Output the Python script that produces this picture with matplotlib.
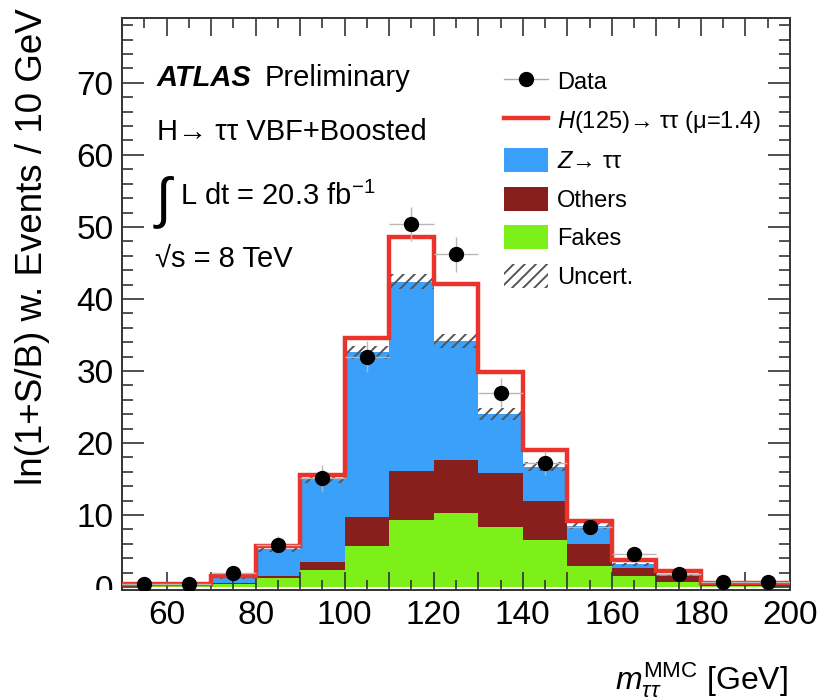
import numpy as np
import matplotlib
matplotlib.use("Agg")
import matplotlib.pyplot as plt
from matplotlib import font_manager
from matplotlib.lines import Line2D
from matplotlib.patches import Patch
from matplotlib.ticker import MultipleLocator, FuncFormatter
from matplotlib.transforms import Bbox, TransformedBbox

# binning (m_tautau MMC, 10 GeV bins)
edges = np.arange(50, 201, 10)

# stacked backgrounds
fakes = [0.10, 0.10, 0.50, 1.20, 2.40, 5.70, 9.30, 10.3, 8.40, 6.60, 2.90, 1.50, 0.70, 0.20, 0.15]
others = [0.05, 0.05, 0.10, 0.40, 1.10, 4.10, 6.80, 7.40, 7.50, 5.30, 3.10, 1.20, 0.80, 0.20, 0.15]
ztautau = [0.10, 0.10, 0.70, 3.70, 11.7, 22.8, 26.3, 16.5, 8.10, 4.80, 2.50, 0.50, 0.20, 0.05, 0.05]
signal = [0.25, 0.25, 0.30, 0.40, 0.30, 2.00, 6.20, 7.90, 5.80, 2.30, 0.70, 0.50, 0.50, 0.15, 0.25]
bkg_unc = [0.10, 0.10, 0.20, 0.40, 0.70, 0.90, 1.00, 1.00, 0.80, 0.60, 0.40, 0.20, 0.15, 0.10, 0.10]

data = [0.5, 0.5, 1.9, 5.9, 15.2, 32.0, 50.4, 46.2, 27.0, 17.2, 8.4, 4.6, 1.8, 0.7, 0.7]
data_err = [0.3, 0.4, 0.7, 1.2, 1.8, 2.1, 2.3, 2.4, 2.0, 1.7, 1.2, 0.9, 0.6, 0.4, 0.4]

c_z = "#3aa0fa"
c_oth = "#87201c"
c_fake = "#7cf018"
c_sig = "#e8342c"

names = {f.name for f in font_manager.fontManager.ttflist}
narrow = "Liberation Sans Narrow" if "Liberation Sans Narrow" in names else "Liberation Sans"
tick_size = 27 if narrow != "Liberation Sans" else 24

plt.rcParams["font.family"] = ["Liberation Sans", "DejaVu Sans"]
plt.rcParams["mathtext.fontset"] = "custom"
plt.rcParams["mathtext.rm"] = "Liberation Sans"
plt.rcParams["mathtext.it"] = "Liberation Sans:italic"
plt.rcParams["mathtext.bf"] = "Liberation Sans:bold"
plt.rcParams["hatch.linewidth"] = 1.4

W, H = 832, 699
fig = plt.figure(figsize=(W / 100, H / 100), dpi=100)
ax = fig.add_axes([122 / W, 1 - 590 / H, (790 - 122) / W, (590 - 18) / H])

f = np.array(fakes)
o = f + np.array(others)
z = o + np.array(ztautau)
tot = z + np.array(signal)
unc = np.array(bkg_unc)

ax.stairs(f, edges, baseline=0, fill=True, color=c_fake, lw=0, zorder=1)
ax.stairs(o, edges, baseline=f, fill=True, color=c_oth, lw=0, zorder=1)
ax.stairs(z, edges, baseline=o, fill=True, color=c_z, lw=0, zorder=1)
ax.stairs(z + unc, edges, baseline=z - unc, fill=True, facecolor="none",
          edgecolor="#555555", hatch="///", lw=0, zorder=2)
ax.stairs(tot, edges, baseline=None, color=c_sig, lw=3.2, zorder=3)

centers = 0.5 * (edges[:-1] + edges[1:])
ax.errorbar(centers, data, yerr=data_err, xerr=5, fmt="o", color="k", ms=10,
            ecolor="#b8b8b8", elinewidth=1.0, capsize=0, zorder=4)

ax.set_xlim(50, 200)
ax.set_ylim(-0.4, 79)

ax.xaxis.set_major_locator(MultipleLocator(10))
ax.xaxis.set_minor_locator(MultipleLocator(5))
ax.xaxis.set_major_formatter(FuncFormatter(lambda v, p: f"{v:.0f}" if int(round(v)) % 20 == 0 else ""))
ax.yaxis.set_major_locator(MultipleLocator(10))
ax.yaxis.set_minor_locator(MultipleLocator(2))
ax.tick_params(which="both", direction="in", top=True, right=True, width=1.2, color="#333333")
ax.tick_params(which="major", length=13)
ax.tick_params(which="minor", length=7)
ax.tick_params(axis="y", which="major", length=16)
ax.tick_params(axis="y", which="minor", length=8)
ax.tick_params(axis="x", pad=7)
ax.tick_params(axis="y", pad=6)
for lab in ax.get_xticklabels() + ax.get_yticklabels():
    lab.set_fontfamily(narrow)
    lab.set_fontsize(tick_size)
for s in ax.spines.values():
    s.set_linewidth(1.4)
    s.set_color("#333333")

# the "0" label is cut by the axis frame in the original
clip = TransformedBbox(Bbox([[0, 1 - 590 / H], [1, 1]]), fig.transFigure)
for t in ax.yaxis.get_major_ticks():
    if abs(t.get_loc()) < 1e-6:
        t.label1.set_clip_box(clip)
        t.label1.set_clip_on(True)

def fx(x):
    return x / W

def fy(y):
    return 1 - y / H

fig.text(fx(33), fy(8), "ln(1+S/B) w. Events / 10 GeV", rotation=90,
         ha="center", va="top", fontsize=26.5)
fig.text(fx(788), fy(690), r"$m_{\tau\tau}^{\mathrm{MMC}}$ [GeV]",
         ha="right", va="baseline", fontsize=23)

fig.text(fx(157), fy(86), "ATLAS", fontsize=21, weight="bold", style="italic", va="baseline")
fig.text(fx(265), fy(86), "Preliminary", fontsize=21, va="baseline")
fig.text(fx(157), fy(140), "H\u2192 \u03c4\u03c4 VBF+Boosted", fontsize=21, va="baseline")
fig.text(fx(156), fy(216), "\u222b", fontsize=40, va="baseline")
fig.text(fx(180), fy(205), "L dt = 20.3 fb$^{-1}$", fontsize=21, va="baseline")
fig.text(fx(155), fy(267), "\u221as = 8 TeV", fontsize=21, va="baseline")

handles = [
    Line2D([], [], color="#aaaaaa", lw=1, marker="o", mfc="k", mec="k", ms=10),
    Line2D([], [], color=c_sig, lw=3.2),
    Patch(facecolor=c_z, edgecolor="none"),
    Patch(facecolor=c_oth, edgecolor="none"),
    Patch(facecolor=c_fake, edgecolor="none"),
    Patch(facecolor="none", edgecolor="#555555", hatch="///", lw=0),
]
labels = ["Data", "$H$(125)\u2192 \u03c4\u03c4 (\u03bc=1.4)", "$Z$\u2192 \u03c4\u03c4",
          "Others", "Fakes", "Uncert."]
fig.legend(handles, labels, loc="upper left", bbox_to_anchor=(fx(504), fy(69)),
           frameon=False, fontsize=17, borderpad=0, borderaxespad=0,
           handlelength=1.85, handleheight=1.2, handletextpad=0.4, labelspacing=0.57)

fig.savefig("out.png", dpi=100)
